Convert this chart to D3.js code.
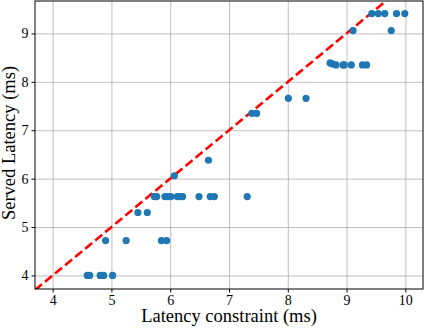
<!DOCTYPE html>
<html>
<head>
<meta charset="utf-8">
<script src="https://cdn.jsdelivr.net/npm/d3@7"></script>
<style>
  body { margin: 0; background: #fff; }
  svg { display: block; font-family: "Liberation Serif", "DejaVu Serif", serif; }
  .grid line { stroke: #b0b0b0; stroke-width: 0.8; }
  .grid .domain { display: none; }
  .axis text { font-size: 14px; fill: #000; font-family: "Liberation Serif", "DejaVu Serif", serif; }
  .axis line { stroke: #000; }
  .axis .domain { display: none; }
</style>
</head>
<body>
<svg id="chart"></svg>
<script>
// latency constraint (x) vs served latency (y), in ms
var constraint = [4.59, 4.63, 4.81, 4.87, 5.02,
                  4.90, 5.25, 5.85, 5.94,
                  5.45, 5.61,
                  5.73, 5.77, 5.91, 5.96, 6.01, 6.12, 6.16, 6.21, 6.49, 6.68, 6.75, 7.31,
                  6.07, 6.65,
                  7.39, 7.47, 8.01, 8.31,
                  8.72, 8.76, 8.82, 8.94, 8.96, 9.08, 9.27, 9.34,
                  9.11, 9.76,
                  9.43, 9.54, 9.65, 9.85, 9.99];
var served =     [4.0, 4.0, 4.0, 4.0, 4.0,
                  4.72, 4.72, 4.72, 4.72,
                  5.30, 5.30,
                  5.63, 5.63, 5.63, 5.63, 5.63, 5.63, 5.63, 5.63, 5.63, 5.63, 5.63, 5.63,
                  6.06, 6.38,
                  7.35, 7.35, 7.66, 7.66,
                  8.39, 8.37, 8.35, 8.35, 8.35, 8.35, 8.35, 8.35,
                  9.06, 9.06,
                  9.41, 9.41, 9.41, 9.41, 9.41];
var xTicks = [4, 5, 6, 7, 8, 9, 10];
var yTicks = [4, 5, 6, 7, 8, 9];

var W = 424, H = 331;
var pLeft = 35, pRight = 423, pTop = 1, pBottom = 289;

var svg = d3.select('#chart').attr('width', W).attr('height', H);

var x = d3.scaleLinear().domain([3.70, 10.30]).range([pLeft, pRight]);
var y = d3.scaleLinear().domain([3.72, 9.67]).range([pBottom, pTop]);

// grid
svg.append('g').attr('class', 'grid')
  .attr('transform', 'translate(0,' + pBottom + ')')
  .call(d3.axisBottom(x).tickValues(xTicks).tickSize(-(pBottom - pTop)).tickFormat(''));
svg.append('g').attr('class', 'grid')
  .attr('transform', 'translate(' + pLeft + ',0)')
  .call(d3.axisLeft(y).tickValues(yTicks).tickSize(-(pRight - pLeft)).tickFormat(''));

svg.append('clipPath').attr('id', 'clip')
  .append('rect').attr('x', pLeft).attr('y', pTop).attr('width', pRight - pLeft).attr('height', pBottom - pTop);

// y = x reference line
var diag = [3.70, 10.30];
svg.append('line')
  .attr('clip-path', 'url(#clip)')
  .attr('x1', x(diag[0])).attr('y1', y(diag[0]))
  .attr('x2', x(diag[1])).attr('y2', y(diag[1]))
  .attr('stroke', '#ff0000').attr('stroke-width', 2.6)
  .attr('stroke-dasharray', '9,4');

// points
svg.append('g').selectAll('circle')
  .data(constraint)
  .enter().append('circle')
  .attr('cx', function(d) { return x(d); })
  .attr('cy', function(d, i) { return y(served[i]); })
  .attr('r', 3.6)
  .attr('fill', '#1f77b4');

// axes
svg.append('g').attr('class', 'axis')
  .attr('transform', 'translate(0,' + pBottom + ')')
  .call(d3.axisBottom(x).tickValues(xTicks).tickSize(3.5).tickPadding(3).tickFormat(d3.format('d')));
svg.append('g').attr('class', 'axis')
  .attr('transform', 'translate(' + pLeft + ',0)')
  .call(d3.axisLeft(y).tickValues(yTicks).tickSize(3.5).tickPadding(3).tickFormat(d3.format('d')));

// frame
svg.append('rect')
  .attr('x', pLeft).attr('y', pTop).attr('width', pRight - pLeft).attr('height', pBottom - pTop)
  .attr('fill', 'none').attr('stroke', '#000').attr('stroke-width', 1);

svg.append('text')
  .attr('x', 229).attr('y', 322)
  .attr('text-anchor', 'middle').attr('font-size', 18.5)
  .text('Latency constraint (ms)');

svg.append('text')
  .attr('transform', 'translate(15,143) rotate(-90)')
  .attr('text-anchor', 'middle').attr('font-size', 18.5)
  .text('Served Latency (ms)');
</script>
</body>
</html>
